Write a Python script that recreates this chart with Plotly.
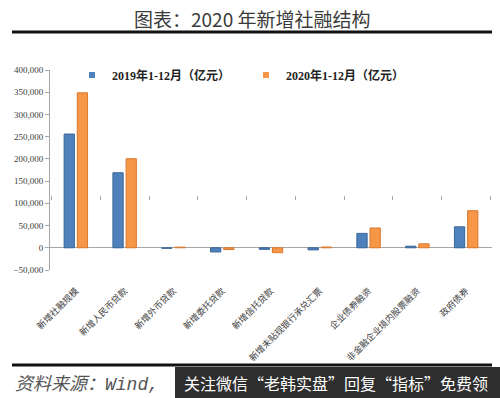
import plotly.graph_objects as go

categories = ["新增社融规模", "新增人民币贷款", "新增外币贷款", "新增委托贷款", "新增信托贷款",
              "新增未贴现银行承兑汇票", "企业债券融资", "非金融企业境内股票融资", "政府债券"]
values_2019 = [255800, 168800, -1275, -9396, -3467, -4757, 32400, 3479, 47204]
values_2020 = [348600, 200300, 1450, -3954, -11000, 1746, 44500, 8923, 83400]
series_names = ["2019年1-12月（亿元）", "2020年1-12月（亿元）"]
y_ticks = [-50000, 0, 50000, 100000, 150000, 200000, 250000, 300000, 350000, 400000]
colors = ["#4F81BD", "#F79646"]
edge_colors = ["#3A6597", "#D9782E"]

W, H = 500, 398
ML, MR, MT, MB = 50, 8, 70, 128
PW, PH = W - ML - MR, H - MT - MB

def px_x(x):
    return (x - ML) / PW

def px_y(y):
    return (H - y - MB) / PH

fig = go.Figure()
for vals, name, c, ec in zip([values_2019, values_2020], series_names, colors, edge_colors):
    fig.add_bar(x=categories, y=vals, name=name, showlegend=False,
                marker=dict(color=c, line=dict(color=ec, width=1)))
# legend entries with small square symbols
for name, c in zip(series_names, colors):
    fig.add_scatter(x=[categories[0]], y=[None], name=name, mode="markers",
                    marker=dict(symbol="square", size=6, color=c), hoverinfo="skip")
# bottom axis carrying the category labels
fig.add_scatter(x=categories, y=[0] * len(categories), xaxis="x2", mode="markers",
                marker=dict(opacity=0), showlegend=False, hoverinfo="skip")

ymin, ymax = -50000, 400000
zero_pos = (MB + (0 - ymin) / (ymax - ymin) * PH) / H

serif = "Liberation Serif, Noto Sans CJK SC, serif"
cjk = "Noto Sans CJK SC, sans-serif"

fig.update_layout(
    width=W, height=H,
    margin=dict(l=ML, r=MR, t=MT, b=MB, autoexpand=False),
    paper_bgcolor="white", plot_bgcolor="white",
    barmode="group", bargap=0.46, bargroupgap=0.22,
    showlegend=True,
    legend=dict(orientation="h", x=px_x(72), xanchor="left", y=px_y(75), yanchor="middle",
                font=dict(family=serif, size=12, color="#222222", weight="bold"),
                itemwidth=30, entrywidth=129, entrywidthmode="pixels",
                bgcolor="rgba(0,0,0,0)", traceorder="normal"),
    xaxis=dict(anchor="free", position=zero_pos, showline=False, showgrid=False,
               ticks="outside", ticklen=4, tickcolor="#a6a6a6", tickson="boundaries",
               showticklabels=False),
    xaxis2=dict(overlaying="x", matches="x", anchor="y", side="bottom", showline=False,
                showgrid=False, ticks="", tickangle=-45, ticklabelstandoff=13,
                tickfont=dict(family=cjk, size=9, color="#404040"), automargin=False),
    yaxis=dict(range=[ymin, ymax], tickvals=y_ticks, tickformat=",d",
               showgrid=False, showline=True, linecolor="#a6a6a6", linewidth=1,
               ticks="outside", ticklen=4, tickcolor="#a6a6a6",
               zeroline=True, zerolinecolor="#a6a6a6", zerolinewidth=1,
               tickfont=dict(family=serif, size=9, color="#404040"), automargin=False),
    shapes=[
        dict(type="line", xref="paper", yref="paper", x0=px_x(12), x1=px_x(492),
             y0=px_y(32), y1=px_y(32), line=dict(color="#111111", width=3)),
        dict(type="line", xref="paper", yref="paper", x0=px_x(12), x1=px_x(492),
             y0=px_y(365), y1=px_y(365), line=dict(color="#111111", width=3)),
        dict(type="rect", xref="paper", yref="paper", x0=px_x(175), x1=px_x(501),
             y0=px_y(399), y1=px_y(367), fillcolor="#2e2e2e", line=dict(width=0)),
    ],
    annotations=[
        dict(text="图表：2020 年新增社融结构", xref="paper", yref="paper",
             x=px_x(252), y=px_y(18), xanchor="center", yanchor="middle", showarrow=False,
             font=dict(family=cjk, size=19, color="#3a3a3a")),
        dict(text="<i>资料来源：<span style='font-family:Liberation Mono'>Wind,</span></i>",
             xref="paper", yref="paper",
             x=px_x(13), y=px_y(382), xanchor="left", yanchor="middle", showarrow=False,
             font=dict(family=cjk, size=18, color="#555555")),
        dict(text="关注微信“老韩实盘”回复“指标”免费领", xref="paper", yref="paper",
             x=px_x(182), y=px_y(383), xanchor="left", yanchor="middle", showarrow=False,
             font=dict(family=cjk, size=16, color="#ffffff")),
    ],
)

fig.write_html("out.html", config={"displayModeBar": False},
               post_script="document.body.style.margin='0';document.body.style.overflow='hidden';")
